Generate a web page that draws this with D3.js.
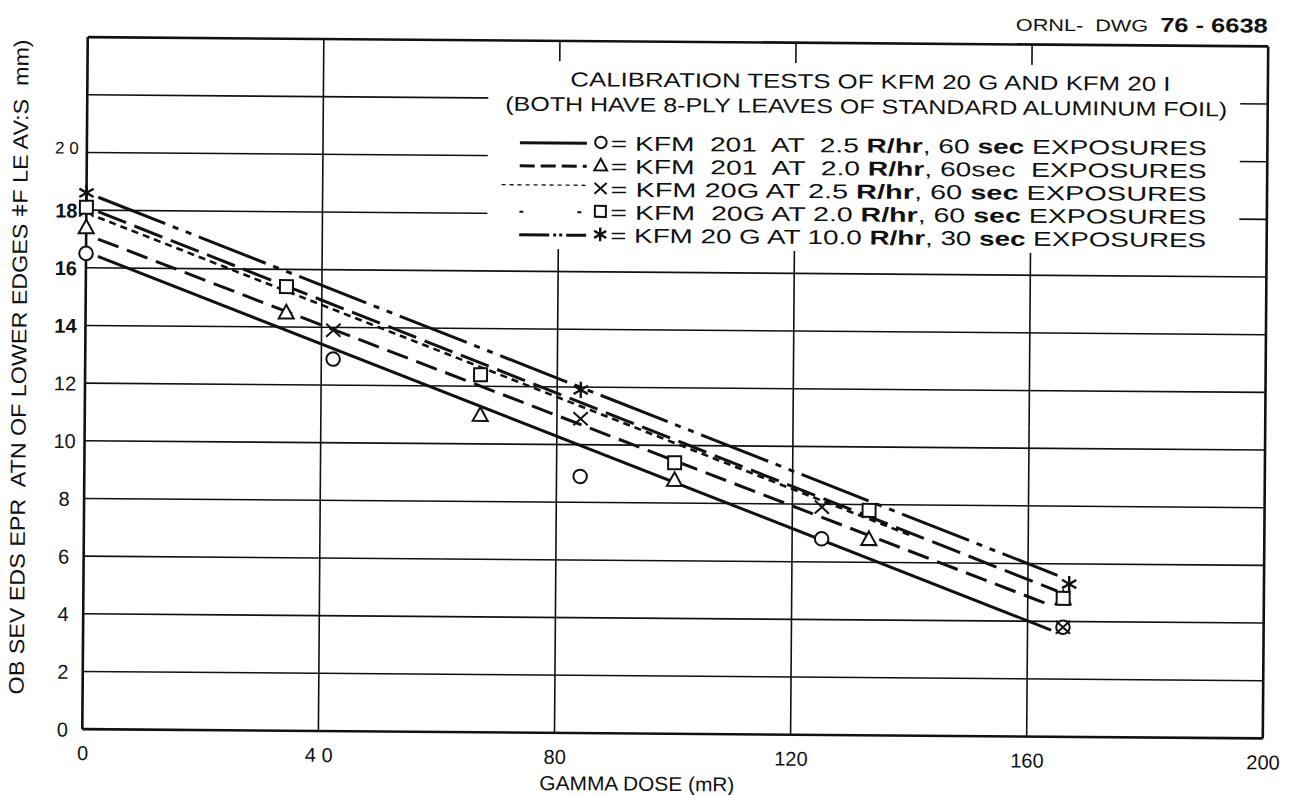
<!DOCTYPE html>
<html>
<head>
<meta charset="utf-8">
<script src="https://cdn.jsdelivr.net/npm/d3@7"></script>
<style>
  body { margin: 0; background: #fff; }
  text { font-family: "Liberation Sans", Arial, sans-serif; fill: #111; white-space: pre; }
</style>
</head>
<body>
<svg id="chart" width="1292" height="795"></svg>
<script>
// ---- axis ticks ----
const xTicks = [0, 40, 80, 120, 160, 200];
const xTickLabels = ["0", "4 0", "80", "120", "160", "200"];
const yTicks = [0, 2, 4, 6, 8, 10, 12, 14, 16, 18, 20];
const yTickLabels = ["0", "2", "4", "6", "8", "10", "12", "14", "16", "18", "2 0"];
const yBoldTicks = [14, 16, 18];
const yGrid = [0, 2, 4, 6, 8, 10, 12, 14, 16, 18, 20, 22, 24];

// ---- measured points (dose mR, separation mm) ----
const kfm201At25 = [[0, 16.5], [42, 12.9], [84, 8.9], [125, 6.8], [166, 3.8]];
const kfm201At20 = [[0, 17.4], [34, 14.5], [67, 11.0], [100, 8.8], [133, 6.8], [166, 4.8]];
const kfm20gAt25 = [[0, 18.0], [42, 13.9], [84, 10.9], [125, 7.9], [166, 3.8]];
const kfm20gAt20 = [[0, 18.1], [34, 15.4], [67, 12.4], [100, 9.4], [133, 7.8], [166, 4.8]];
const kfm20gAt100 = [[0, 18.6], [84, 11.9], [167, 5.3]];

// ---- fitted calibration lines ----
const fit201At25 = [[2, 16.4], [164, 3.7]];
const fit201At20 = [[2, 17.0], [164, 4.55]];
const fit20gAt25 = [[2, 17.75], [140, 6.95]];
const fit20gAt20 = [[2, 17.95], [165, 5.05]];
const fit20gAt100 = [[2, 18.45], [165, 5.6]];

const series = [
  { pts: kfm201At25, fit: fit201At25, sym: "circle", dash: null, w: 3,
    legDash: null, legW: 3,
    label: ["= KFM  201  AT  2.5 ", "R/hr", ", 60 ", "sec", " EXPOSURES"] },
  { pts: kfm201At20, fit: fit201At20, sym: "triangle", dash: "22,9", w: 3,
    legDash: "15,6", legW: 3,
    label: ["= KFM  201  AT  2.0 ", "R/hr", ", 60sec  EXPOSURES", "", ""] },
  { pts: kfm20gAt25, fit: fit20gAt25, sym: "times", dash: "7,5", w: 2.6,
    legDash: "4,4", legW: 1.3,
    label: ["= KFM 20G AT 2.5 ", "R/hr", ", 60 ", "sec", " EXPOSURES"] },
  { pts: kfm20gAt20, fit: fit20gAt20, sym: "square", dash: "30,9", w: 3,
    legDash: "4,54", legW: 2,
    label: ["= KFM  20G AT 2.0 ", "R/hr", ", 60 ", "sec", " EXPOSURES"] },
  { pts: kfm20gAt100, fit: fit20gAt100, sym: "star", dash: "72,8,6,8,6,8", w: 3,
    legDash: "30,4,3,3,3,4", legW: 3,
    label: ["= KFM 20 G AT 10.0 ", "R/hr", ", 30 ", "sec", " EXPOSURES"] }
];

const svg = d3.select("#chart");
// the sheet sits very slightly turned on the page
const page = svg.append("g").attr("transform", "rotate(0.45 675 388)");

const x = d3.scaleLinear().domain([0, 200]).range([85, 1265.5]);
const y = d3.scaleLinear().domain([0, 24]).range([733.75, 41.75]);

// ---- grid ----
const grid = page.append("g").attr("stroke", "#111").attr("fill", "none");
grid.selectAll("line.h").data(yGrid).join("line")
  .attr("x1", x(0)).attr("x2", x(200))
  .attr("y1", d => y(d)).attr("y2", d => y(d))
  .attr("stroke-width", d => (d === 0 || d === 24) ? 2.6 : 1.6);
grid.selectAll("line.v").data(xTicks).join("line")
  .attr("y1", y(0)).attr("y2", y(24))
  .attr("x1", d => x(d)).attr("x2", d => x(d))
  .attr("stroke-width", d => (d === 0 || d === 200) ? 2.6 : 1.6);

// ---- axes labels (d3 axes, domain and tick lines hidden) ----
const xAxis = page.append("g").attr("transform", `translate(0,${y(0) + 10})`)
  .call(d3.axisBottom(x).tickValues(xTicks).tickSize(0).tickFormat((d, i) => xTickLabels[i]));
xAxis.select(".domain").remove();
xAxis.selectAll("text").attr("font-size", 20).attr("dy", "0.9em")
  .style("font-family", "'Liberation Sans',Arial,sans-serif").attr("fill", "#111");

const yAxis = page.append("g").attr("transform", `translate(${x(0) - 12},0)`)
  .call(d3.axisLeft(y).tickValues(yTicks).tickSize(0).tickFormat((d, i) => yTickLabels[i]));
yAxis.select(".domain").remove();
yAxis.selectAll("text").attr("font-size", d => d === 20 ? 17 : 20)
  .attr("font-weight", d => yBoldTicks.includes(d) ? "bold" : "normal")
  .attr("text-anchor", "middle").attr("x", -8)
  .attr("dy", d => d === 20 ? "0.05em" : "0.35em")
  .style("font-family", "'Liberation Sans',Arial,sans-serif").attr("fill", "#111");

page.append("text").attr("x", 640).attr("y", 791).attr("text-anchor", "middle")
  .attr("font-size", 20).attr("textLength", 195).attr("lengthAdjust", "spacingAndGlyphs")
  .text("GAMMA DOSE (mR)");

page.append("text")
  .attr("transform", "translate(26,372) rotate(-90)")
  .attr("text-anchor", "middle").attr("font-size", 21)
  .attr("textLength", 655).attr("lengthAdjust", "spacingAndGlyphs")
  .text("OB SEV EDS EPR  ATN OF LOWER EDGES ǂF LE AV:S  mm)");

const tag = page.append("text").attr("x", 1265).attr("y", 28).attr("text-anchor", "end")
  .attr("textLength", 252).attr("lengthAdjust", "spacingAndGlyphs");
tag.append("tspan").attr("font-size", 17).text("ORNL-  DWG  ");
tag.append("tspan").attr("font-size", 20).attr("font-weight", "bold").text("76 - 6638");

// ---- fitted lines ----
const line = d3.line().x(d => x(d[0])).y(d => y(d[1]));
const lines = page.append("g").attr("fill", "none").attr("stroke", "#111").attr("stroke-linecap", "butt");
lines.selectAll("path").data(series).join("path")
  .attr("d", d => line(d.fit))
  .attr("stroke-width", d => d.w)
  .attr("stroke-dasharray", d => d.dash);

// ---- markers ----
function marker(g, sym, size) {
  const s = size;
  g.attr("fill", "none").attr("stroke", "#111").attr("stroke-width", 2);
  if (sym === "circle") g.append("circle").attr("r", s * 0.52).attr("fill", "#fff");
  if (sym === "triangle") g.append("path").attr("fill", "#fff")
    .attr("d", `M0,${-s * 0.6}L${s * 0.58},${s * 0.45}L${-s * 0.58},${s * 0.45}Z`);
  if (sym === "square") g.append("rect").attr("fill", "#fff")
    .attr("x", -s * 0.5).attr("y", -s * 0.5).attr("width", s).attr("height", s);
  if (sym === "times") g.append("path")
    .attr("d", `M${-s * 0.55},${-s * 0.5}L${s * 0.55},${s * 0.5}M${s * 0.55},${-s * 0.5}L${-s * 0.55},${s * 0.5}`);
  if (sym === "star") g.append("path").attr("stroke-width", 2.4)
    .attr("d", `M0,${-s * 0.62}L0,${s * 0.62}M${-s * 0.55},${-s * 0.32}L${s * 0.55},${s * 0.32}M${s * 0.55},${-s * 0.32}L${-s * 0.55},${s * 0.32}`);
}
series.forEach(sr => {
  page.append("g").selectAll("g").data(sr.pts).join("g")
    .attr("transform", d => `translate(${x(d[0])},${y(d[1])})`)
    .each(function () { marker(d3.select(this), sr.sym, 13); });
});

// ---- legend block (covers the grid behind it) ----
const leg = page.append("g");
leg.append("rect").attr("x", 486).attr("y", 62).attr("width", 752).attr("height", 188).attr("fill", "#fff");
leg.append("text").attr("x", 868).attr("y", 87).attr("text-anchor", "middle").attr("font-size", 20)
  .attr("textLength", 600).attr("lengthAdjust", "spacingAndGlyphs")
  .text("CALIBRATION TESTS OF KFM 20 G AND KFM 20 I");
leg.append("text").attr("x", 864).attr("y", 112).attr("text-anchor", "middle").attr("font-size", 20)
  .attr("textLength", 722).attr("lengthAdjust", "spacingAndGlyphs")
  .text("(BOTH HAVE 8-PLY LEAVES OF STANDARD ALUMINUM FOIL)");

const rowY = [144, 167, 190, 213, 236];
series.forEach((sr, i) => {
  const cy = rowY[i];
  leg.append("line").attr("x1", sr.sym === "times" ? 500 : 518).attr("x2", 585)
    .attr("y1", sr.sym === "times" ? cy - 4 : cy).attr("y2", sr.sym === "times" ? cy - 4 : cy)
    .attr("stroke", "#111").attr("stroke-width", sr.legW).attr("stroke-dasharray", sr.legDash);
  const mg = leg.append("g").attr("transform", `translate(599,${cy - 1})`);
  marker(mg, sr.sym, 11);
  const t = leg.append("text").attr("x", 609).attr("y", cy + 7).attr("font-size", 20)
    .attr("textLength", 596).attr("lengthAdjust", "spacingAndGlyphs");
  sr.label.forEach((part, k) => {
    if (!part) return;
    const ts = t.append("tspan").text(part);
    if (k === 1 || k === 3) ts.attr("font-weight", "bold");
  });
});
</script>
</body>
</html>
